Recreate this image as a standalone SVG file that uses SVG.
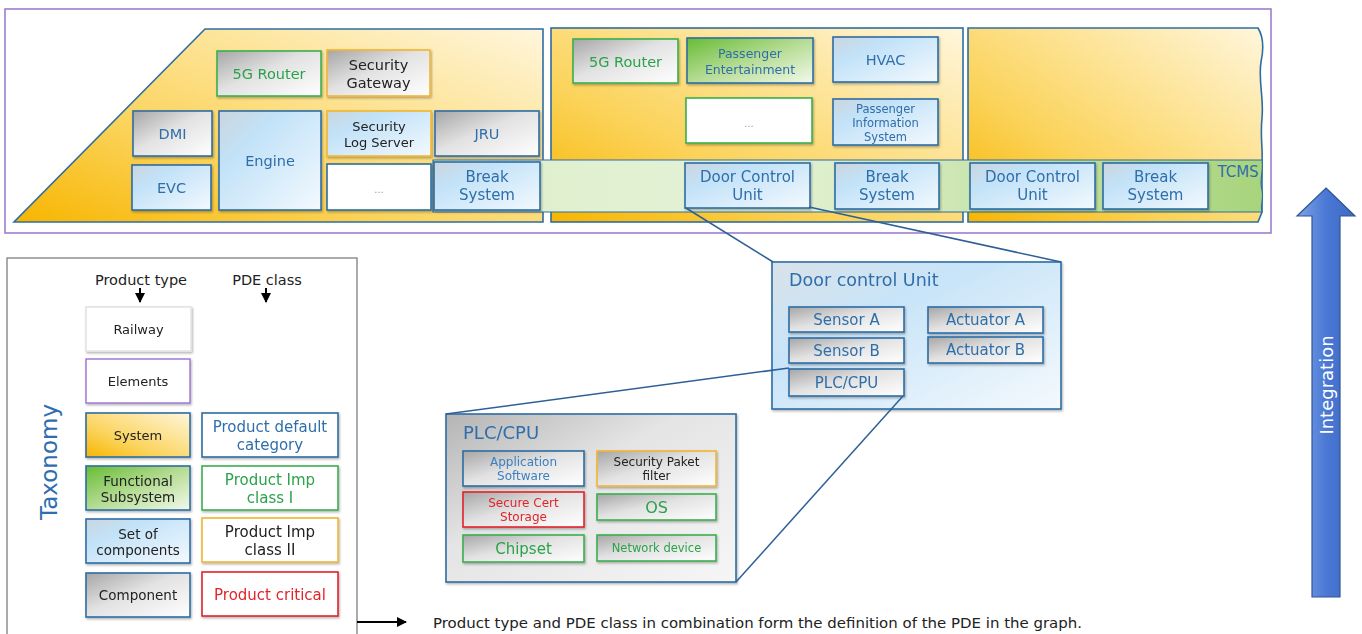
<svg xmlns="http://www.w3.org/2000/svg" width="1362" height="634" viewBox="0 0 1362 634">
<defs>
<linearGradient id="gCar" x1="0" y1="1" x2="1" y2="0">
<stop offset="0" stop-color="#F7B500"/><stop offset="0.35" stop-color="#FBD35A"/><stop offset="1" stop-color="#FFF6DC"/>
</linearGradient>
<linearGradient id="gGrey" x1="0" y1="0" x2="1" y2="1">
<stop offset="0" stop-color="#A6A6A6"/><stop offset="0.45" stop-color="#E2E2E2"/><stop offset="1" stop-color="#FFFFFF"/>
</linearGradient>
<linearGradient id="gBlue" x1="0" y1="0" x2="1" y2="1">
<stop offset="0" stop-color="#CBD5DD"/><stop offset="0.3" stop-color="#C2E2F8"/><stop offset="1" stop-color="#F3F9FE"/>
</linearGradient>
<linearGradient id="gGreen" x1="0" y1="0" x2="1" y2="1">
<stop offset="0" stop-color="#67BC35"/><stop offset="0.5" stop-color="#B5DC93"/><stop offset="1" stop-color="#F2F9EA"/>
</linearGradient>
<linearGradient id="gBand" x1="0" y1="0" x2="1" y2="0">
<stop offset="0" stop-color="#DDEFCB"/><stop offset="0.4" stop-color="#E4F2D6"/><stop offset="1" stop-color="#A8D47C"/>
</linearGradient>
<linearGradient id="gDcu" x1="0" y1="0" x2="1" y2="1">
<stop offset="0" stop-color="#D9E2E9"/><stop offset="0.35" stop-color="#C8E4F8"/><stop offset="1" stop-color="#F4F9FD"/>
</linearGradient>
<linearGradient id="gPlc" x1="0" y1="0" x2="1" y2="1">
<stop offset="0" stop-color="#B4B4B4"/><stop offset="0.4" stop-color="#E4E4E4"/><stop offset="1" stop-color="#F6F6F6"/>
</linearGradient>
<linearGradient id="gArrow" x1="0" y1="0" x2="1" y2="0">
<stop offset="0" stop-color="#7FA3E6"/><stop offset="0.5" stop-color="#4A78D4"/><stop offset="1" stop-color="#3D69C4"/>
</linearGradient>
<filter id="sh" x="-10%" y="-10%" width="125%" height="130%">
<feDropShadow dx="1" dy="1.5" stdDeviation="1" flood-color="#000" flood-opacity="0.3"/>
</filter>
<marker id="ah" viewBox="0 0 10 10" refX="9" refY="5" markerWidth="5" markerHeight="5" orient="auto">
<path d="M0,0 L10,5 L0,10 Z" fill="#000"/>
</marker>
<style>
text{font-family:"DejaVu Sans","Verdana",sans-serif;text-anchor:middle}
.b{stroke:#2E6DA4;stroke-width:1.6}
.gr{stroke:#3BB04E;stroke-width:1.6}
.or{stroke:#F2B632;stroke-width:1.6}
.rd{stroke:#E3242B;stroke-width:1.6}
.pu{stroke:#9B72D0;stroke-width:1.4}
.tb{fill:#2F6EAA}
.tg{fill:#2AA24A}
.tk{fill:#222}
.tr{fill:#E3242B}
.con{stroke:#2E5F96;stroke-width:1.5;fill:none}
</style>
</defs>

<rect id="frame" x="5" y="9" width="1266" height="224" fill="#fff" stroke="#9B7ED0" stroke-width="1.6"/>

<g id="car1">
<polygon points="205,29 543,29 543,222 14,222" fill="url(#gCar)" stroke="#2E6DA4" stroke-width="1.6"/>
</g>
<g id="car2">
<rect x="551" y="28" width="412" height="194" fill="url(#gCar)" stroke="#2E6DA4" stroke-width="1.6"/>
</g>
<g id="car3">
<path d="M968,28 L1258,28 C1263,36 1264,48 1261,62 C1258,80 1264,98 1262,118 C1260,136 1263,150 1262,160 L1262,212 L1258,222 L968,222 Z" fill="url(#gCar)" stroke="#2E6DA4" stroke-width="1.6"/>
</g>
<g id="tcms">
<path d="M433,160 L1262,160 C1264,170 1259,180 1262,190 C1264,198 1260,206 1262,212 L433,212 Z" fill="url(#gBand)" stroke="#2E6DA4" stroke-width="1.2"/>
<text x="1238" y="177" font-size="15" class="tb">TCMS</text>
</g>

<g id="c1-5g" filter="url(#sh)"><rect x="217" y="51" width="104" height="45" fill="url(#gGrey)" class="gr"/><text x="269" y="79" font-size="14.5" class="tg">5G Router</text></g>
<g id="c1-secgw" filter="url(#sh)"><rect x="327" y="50" width="103" height="46" fill="url(#gGrey)" class="or"/><text x="378.5" y="70" font-size="14.5" class="tk">Security</text><text x="378.5" y="88" font-size="14.5" class="tk">Gateway</text></g>
<g id="c1-dmi" filter="url(#sh)"><rect x="133" y="111" width="79" height="45" fill="url(#gGrey)" class="b"/><text x="172.5" y="139" font-size="14.5" class="tb">DMI</text></g>
<g id="c1-evc" filter="url(#sh)"><rect x="132" y="165" width="79" height="45" fill="url(#gBlue)" class="b"/><text x="171.5" y="193" font-size="14.5" class="tb">EVC</text></g>
<g id="c1-engine" filter="url(#sh)"><rect x="219" y="111" width="102" height="99" fill="url(#gBlue)" class="b"/><text x="270" y="166" font-size="14.5" class="tb">Engine</text></g>
<g id="c1-seclog" filter="url(#sh)"><rect x="327" y="111" width="104" height="45" fill="url(#gBlue)" class="or"/><text x="379" y="131" font-size="13" class="tk">Security</text><text x="379" y="147" font-size="13" class="tk">Log Server</text></g>
<g id="c1-dots" filter="url(#sh)"><rect x="327" y="164" width="104" height="46" fill="#fff" class="b"/><text x="379" y="193" font-size="10" fill="#999">...</text></g>
<g id="c1-jru" filter="url(#sh)"><rect x="435" y="111" width="104" height="45" fill="url(#gGrey)" class="b"/><text x="487" y="139" font-size="14.5" class="tb">JRU</text></g>
<g id="c1-break" filter="url(#sh)"><rect x="434" y="162" width="106" height="48" fill="url(#gBlue)" class="b"/><text x="487" y="182" font-size="15" class="tb">Break</text><text x="487" y="200" font-size="15" class="tb">System</text></g>

<g id="c2-5g" filter="url(#sh)"><rect x="573" y="39" width="105" height="44" fill="url(#gGrey)" class="gr"/><text x="625.5" y="67" font-size="14.5" class="tg">5G Router</text></g>
<g id="c2-pe" filter="url(#sh)"><rect x="687" y="38" width="126" height="45" fill="url(#gGreen)" class="b"/><text x="750" y="58" font-size="12.5" class="tb">Passenger</text><text x="750" y="74" font-size="12.5" class="tb">Entertainment</text></g>
<g id="c2-hvac" filter="url(#sh)"><rect x="833" y="37" width="105" height="45" fill="url(#gBlue)" class="b"/><text x="885.5" y="65" font-size="14.5" class="tb">HVAC</text></g>
<g id="c2-dots" filter="url(#sh)"><rect x="686" y="98" width="126" height="45" fill="#fff" class="gr"/><text x="749" y="127" font-size="10" fill="#999">...</text></g>
<g id="c2-pis" filter="url(#sh)"><rect x="833" y="99" width="105" height="46" fill="url(#gBlue)" class="b"/><text x="885.5" y="113" font-size="11.5" class="tb">Passenger</text><text x="885.5" y="127" font-size="11.5" class="tb">Information</text><text x="885.5" y="141" font-size="11.5" class="tb">System</text></g>
<g id="c2-dcu" filter="url(#sh)"><rect x="685" y="163" width="125" height="45" fill="url(#gBlue)" class="b"/><text x="747.5" y="182" font-size="15" class="tb">Door Control</text><text x="747.5" y="200" font-size="15" class="tb">Unit</text></g>
<g id="c2-break" filter="url(#sh)"><rect x="835" y="163" width="104" height="46" fill="url(#gBlue)" class="b"/><text x="887" y="182" font-size="15" class="tb">Break</text><text x="887" y="200" font-size="15" class="tb">System</text></g>

<g id="c3-dcu" filter="url(#sh)"><rect x="970" y="163" width="125" height="46" fill="url(#gBlue)" class="b"/><text x="1032.5" y="182" font-size="15" class="tb">Door Control</text><text x="1032.5" y="200" font-size="15" class="tb">Unit</text></g>
<g id="c3-break" filter="url(#sh)"><rect x="1103" y="163" width="105" height="46" fill="url(#gBlue)" class="b"/><text x="1155.5" y="182" font-size="15" class="tb">Break</text><text x="1155.5" y="200" font-size="15" class="tb">System</text></g>

<g id="dcu" filter="url(#sh)">
<rect x="772" y="262" width="289" height="147" fill="url(#gDcu)" stroke="#2E6DA4" stroke-width="1.6"/>
<text x="789" y="286" font-size="17.5" class="tb" style="text-anchor:start">Door control Unit</text>
</g>
<g id="dcu-sa" filter="url(#sh)"><rect x="789" y="307" width="115" height="25" fill="url(#gGrey)" class="b"/><text x="846.5" y="325" font-size="15" class="tb">Sensor A</text></g>
<g id="dcu-sb" filter="url(#sh)"><rect x="789" y="338" width="115" height="25" fill="url(#gGrey)" class="b"/><text x="846.5" y="356" font-size="15" class="tb">Sensor B</text></g>
<g id="dcu-plc" filter="url(#sh)"><rect x="789" y="369" width="115" height="27" fill="url(#gGrey)" class="b"/><text x="846.5" y="388" font-size="15" class="tb">PLC/CPU</text></g>
<g id="dcu-aa" filter="url(#sh)"><rect x="928" y="307" width="115" height="26" fill="url(#gGrey)" class="b"/><text x="985.5" y="325" font-size="15" class="tb">Actuator A</text></g>
<g id="dcu-ab" filter="url(#sh)"><rect x="928" y="337" width="115" height="26" fill="url(#gGrey)" class="b"/><text x="985.5" y="355" font-size="15" class="tb">Actuator B</text></g>

<g id="plc" filter="url(#sh)">
<rect x="446" y="414" width="290" height="168" fill="url(#gPlc)" stroke="#2E6DA4" stroke-width="1.6"/>
<text x="463" y="439" font-size="18" class="tb" style="text-anchor:start">PLC/CPU</text>
</g>
<g id="plc-app" filter="url(#sh)"><rect x="463" y="451" width="121" height="35" fill="url(#gGrey)" class="b"/><text x="523.5" y="466" font-size="12" fill="#3C7FC0">Application</text><text x="523.5" y="480" font-size="12" fill="#3C7FC0">Software</text></g>
<g id="plc-spf" filter="url(#sh)"><rect x="597" y="451" width="119" height="35" fill="url(#gGrey)" class="or"/><text x="656.5" y="466" font-size="12" class="tk">Security Paket</text><text x="656.5" y="480" font-size="12" class="tk">filter</text></g>
<g id="plc-scs" filter="url(#sh)"><rect x="463" y="492" width="121" height="35" fill="url(#gGrey)" class="rd"/><text x="523.5" y="507" font-size="12" class="tr">Secure Cert</text><text x="523.5" y="521" font-size="12" class="tr">Storage</text></g>
<g id="plc-os" filter="url(#sh)"><rect x="597" y="494" width="119" height="26" fill="url(#gGrey)" class="gr"/><text x="656.5" y="513" font-size="16" class="tg">OS</text></g>
<g id="plc-chip" filter="url(#sh)"><rect x="463" y="535" width="121" height="27" fill="url(#gGrey)" class="gr"/><text x="523.5" y="554" font-size="15" class="tg">Chipset</text></g>
<g id="plc-net" filter="url(#sh)"><rect x="597" y="535" width="119" height="26" fill="url(#gGrey)" class="gr"/><text x="656.5" y="552" font-size="11.5" class="tg">Network device</text></g>

<g id="taxonomy">
<rect x="7" y="258" width="350" height="390" fill="#fff" stroke="#888" stroke-width="1.4"/>
<text x="141" y="285" font-size="14.5" class="tk">Product type</text>
<text x="267" y="285" font-size="14.5" class="tk">PDE class</text>
<line x1="140" y1="288" x2="140" y2="302" stroke="#000" stroke-width="2" marker-end="url(#ah)"/>
<line x1="266" y1="288" x2="266" y2="302" stroke="#000" stroke-width="2" marker-end="url(#ah)"/>
<text transform="translate(57,462) rotate(-90)" font-size="23" fill="#2E6DB0">Taxonomy</text>
</g>
<g id="t-railway" filter="url(#sh)"><rect x="86" y="307" width="105" height="44" fill="#fff" stroke="#E4E4E4" stroke-width="1.6"/><text x="138.5" y="334" font-size="13" class="tk">Railway</text></g>
<g id="t-elements" filter="url(#sh)"><rect x="86" y="359" width="104" height="44" fill="#fff" class="pu"/><text x="138" y="386" font-size="13" class="tk">Elements</text></g>
<g id="t-system" filter="url(#sh)"><rect x="86" y="413" width="104" height="44" fill="url(#gCar)" class="b"/><text x="138" y="440" font-size="13" class="tk">System</text></g>
<g id="t-func" filter="url(#sh)"><rect x="86" y="466" width="104" height="44" fill="url(#gGreen)" class="b"/><text x="138" y="486" font-size="13.5" class="tk">Functional</text><text x="138" y="502" font-size="13.5" class="tk">Subsystem</text></g>
<g id="t-set" filter="url(#sh)"><rect x="86" y="519" width="104" height="44" fill="url(#gBlue)" class="b"/><text x="138" y="539" font-size="13.5" class="tk">Set of</text><text x="138" y="555" font-size="13.5" class="tk">components</text></g>
<g id="t-comp" filter="url(#sh)"><rect x="86" y="573" width="104" height="44" fill="url(#gGrey)" class="b"/><text x="138" y="600" font-size="13.5" class="tk">Component</text></g>
<g id="t-pdc" filter="url(#sh)"><rect x="202" y="413" width="136" height="44" fill="#fff" class="b"/><text x="270" y="432" font-size="15" class="tb">Product default</text><text x="270" y="450" font-size="15" class="tb">category</text></g>
<g id="t-pi1" filter="url(#sh)"><rect x="202" y="466" width="136" height="44" fill="#fff" class="gr"/><text x="270" y="485" font-size="15" class="tg">Product Imp</text><text x="270" y="503" font-size="15" class="tg">class I</text></g>
<g id="t-pi2" filter="url(#sh)"><rect x="202" y="518" width="136" height="44" fill="#fff" class="or"/><text x="270" y="537" font-size="15" class="tk">Product Imp</text><text x="270" y="555" font-size="15" class="tk">class II</text></g>
<g id="t-crit" filter="url(#sh)"><rect x="202" y="572" width="136" height="44" fill="#fff" class="rd"/><text x="270" y="600" font-size="15" class="tr">Product critical</text></g>

<g id="connectors">
<line x1="686" y1="208" x2="773" y2="262" class="con"/>
<line x1="809" y1="207" x2="1061" y2="262" class="con"/>
<line x1="789" y1="368" x2="446" y2="414" class="con"/>
<line x1="903" y1="396" x2="736" y2="582" class="con"/>
<line x1="357" y1="622" x2="406" y2="622" stroke="#000" stroke-width="2" marker-end="url(#ah)"/>
</g>

<g id="note">
<text x="433" y="628" font-size="14" class="tk" style="text-anchor:start" textLength="649" lengthAdjust="spacingAndGlyphs">Product type and PDE class in combination form the definition of the PDE in the graph.</text>
</g>

<g id="integration">
<path d="M1326,188 L1355,216 L1340,216 L1340,597 L1312,597 L1312,216 L1297,216 Z" fill="url(#gArrow)" stroke="#2F5597" stroke-width="1.2"/>
<text transform="translate(1333,385) rotate(-90)" font-size="18" fill="#fff">Integration</text>
</g>
</svg>
